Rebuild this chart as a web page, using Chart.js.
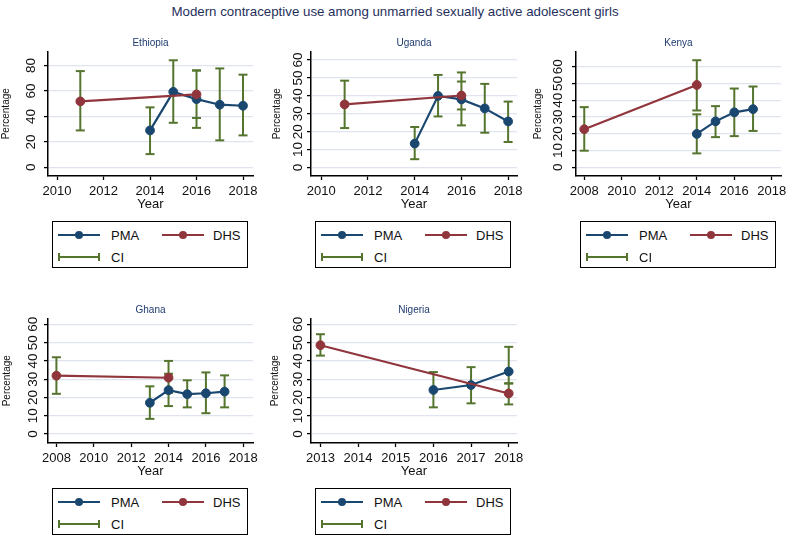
<!DOCTYPE html>
<html><head><meta charset="utf-8">
<script src="https://cdn.jsdelivr.net/npm/chart.js@4/dist/chart.umd.min.js"></script>
<style>
body{margin:0;width:790px;height:536px;background:#fff;position:relative;overflow:hidden;font-family:"Liberation Sans",Arial,Helvetica,sans-serif;}
canvas{position:absolute;}
.t{position:absolute;white-space:nowrap;transform:translate(-50%,-50%);}
.main{left:395px;top:11px;font-size:13.3px;color:#1f2f5c;}
.pt{font-size:10px;color:#1f3b6f;}
.lg{position:absolute;width:196px;height:47px;border:1.5px solid #000;box-sizing:border-box;}
.lg .ln{position:absolute;height:2px;width:42px;}
.lg .dot{position:absolute;width:8px;height:8px;border-radius:50%;}
.lg .cap{position:absolute;width:2px;height:8px;}
.lg .tx{position:absolute;font-size:13px;color:#111;transform:translateY(-50%);}
</style></head>
<body>
<div class="t main">Modern contraceptive use among unmarried sexually active adolescent girls</div>
<script>
// ---------- data ----------
const countries = ['Ethiopia', 'Uganda', 'Kenya', 'Ghana', 'Nigeria'];

const ethPmaYears = [2014, 2015, 2016, 2017, 2018];
const ethPma      = [29.0, 59.3, 53.6, 49.2, 48.4];
const ethPmaLo    = [10.4, 35.0, 31.0, 21.2, 25.1];
const ethPmaHi    = [47.1, 84.1, 76.1, 77.7, 72.8];
const ethDhsYears = [2011, 2016];
const ethDhs      = [51.8, 57.3];
const ethDhsLo    = [29.0, 38.8];
const ethDhsHi    = [75.6, 76.1];

const ugaPmaYears = [2014, 2015, 2016, 2017, 2018];
const ugaPma      = [13.3, 40.0, 38.0, 33.0, 25.7];
const ugaPmaLo    = [4.6, 28.5, 23.5, 19.4, 14.2];
const ugaPmaHi    = [22.6, 51.7, 53.1, 46.7, 36.8];
const ugaDhsYears = [2011, 2016];
const ugaDhs      = [35.2, 40.2];
const ugaDhsLo    = [22.0, 32.4];
const ugaDhsHi    = [48.5, 48.0];

const kenPmaYears = [2014, 2015, 2016, 2017];
const kenPma      = [19.9, 27.4, 32.8, 34.7];
const kenPmaLo    = [8.3, 18.0, 18.6, 21.7];
const kenPmaHi    = [31.6, 36.5, 47.0, 48.2];
const kenDhsYears = [2008, 2014];
const kenDhs      = [22.7, 49.1];
const kenDhsLo    = [9.9, 33.9];
const kenDhsHi    = [35.9, 63.9];

const ghaPmaYears = [2013, 2014, 2015, 2016, 2017];
const ghaPma      = [17.1, 24.0, 21.8, 22.3, 23.2];
const ghaPmaLo    = [8.3, 15.3, 14.6, 11.4, 14.6];
const ghaPmaHi    = [26.1, 33.0, 29.4, 33.7, 32.1];
const ghaDhsYears = [2008, 2014];
const ghaDhs      = [31.9, 30.8];
const ghaDhsLo    = [22.0, 22.5];
const ghaDhsHi    = [42.0, 40.0];

const ngaPmaYears = [2016, 2017, 2018];
const ngaPma      = [24.1, 26.8, 34.2];
const ngaPmaLo    = [14.6, 16.8, 27.6];
const ngaPmaHi    = [33.9, 36.6, 47.7];
const ngaDhsYears = [2013, 2018];
const ngaDhs      = [48.6, 22.2];
const ngaDhsLo    = [42.9, 16.2];
const ngaDhsHi    = [54.6, 27.8];

const xTicksA = [2010, 2012, 2014, 2016, 2018];
const xTicksB = [2008, 2010, 2012, 2014, 2016, 2018];
const xTicksC = [2013, 2014, 2015, 2016, 2017, 2018];
const yTicks80 = [0, 20, 40, 60, 80];
const yTicks60 = [0, 10, 20, 30, 40, 50, 60];

const seriesNames = ['PMA', 'DHS', 'CI'];

// ---------- style ----------
const NAVY = '#1a476f', MAROON = '#90353b', GREEN = '#55752f', GRID = '#dfe4ef';
const FONT = '"Liberation Sans", Arial, sans-serif';

function pts(years, vals) { return years.map((x, i) => ({x: x, y: vals[i]})); }
function ciPts(groups) {
  const out = [];
  groups.forEach(g => g.years.forEach((x, i) => { out.push({x: x, y: g.lo[i]}, {x: x, y: g.hi[i]}, {x: x, y: null}); }));
  return out;
}

const panels = [
  {name: countries[0], L: 0,   T: 45,  W: 267, yW: 48, padR: 14, yPad: 5.0, xMin: 2009.61, xMax: 2018.43, yMin: -6.8, yMax: 91, xT: xTicksA, yT: yTicks80,
   pmaY: ethPmaYears, pma: ethPma, pmaLo: ethPmaLo, pmaHi: ethPmaHi, dhsY: ethDhsYears, dhs: ethDhs, dhsLo: ethDhsLo, dhsHi: ethDhsHi},
  {name: countries[1], L: 271, T: 45,  W: 260, yW: 40, padR: 14, yPad: 1.0, xMin: 2009.56, xMax: 2018.38, yMin: -4.8, yMax: 64.8, xT: xTicksA, yT: yTicks60,
   pmaY: ugaPmaYears, pma: ugaPma, pmaLo: ugaPmaLo, pmaHi: ugaPmaHi, dhsY: ugaDhsYears, dhs: ugaDhs, dhsLo: ugaDhsLo, dhsHi: ugaDhsHi},
  {name: countries[2], L: 532, T: 45,  W: 258, yW: 44, padR: 9,  yPad: 5.9, xMin: 2007.56, xMax: 2018.49, yMin: -5.2, yMax: 69.1, xT: xTicksB, yT: yTicks60,
   pmaY: kenPmaYears, pma: kenPma, pmaLo: kenPmaLo, pmaHi: kenPmaHi, dhsY: kenDhsYears, dhs: kenDhs, dhsLo: kenDhsLo, dhsHi: kenDhsHi},
  {name: countries[3], L: 1,   T: 312, W: 266, yW: 47, padR: 14, yPad: 3.5, xMin: 2007.55, xMax: 2018.52, yMin: -4.9, yMax: 63.2, xT: xTicksB, yT: yTicks60,
   pmaY: ghaPmaYears, pma: ghaPma, pmaLo: ghaPmaLo, pmaHi: ghaPmaHi, dhsY: ghaDhsYears, dhs: ghaDhs, dhsLo: ghaDhsLo, dhsHi: ghaDhsHi},
  {name: countries[4], L: 269, T: 312, W: 262, yW: 42, padR: 14, yPad: 1.0, xMin: 2012.75, xMax: 2018.22, yMin: -4.9, yMax: 63.2, xT: xTicksC, yT: yTicks60,
   pmaY: ngaPmaYears, pma: ngaPma, pmaLo: ngaPmaLo, pmaHi: ngaPmaHi, dhsY: ngaDhsYears, dhs: ngaDhs, dhsLo: ngaDhsLo, dhsHi: ngaDhsHi}
];

const H = 167, PADT = 5, XH = 36;

function addDiv(cls, style, html) {
  const d = document.createElement('div');
  d.className = cls; d.setAttribute('style', style); if (html !== undefined) d.textContent = html;
  document.body.appendChild(d); return d;
}

panels.forEach(p => {
  const cv = document.createElement('canvas');
  cv.width = p.W; cv.height = H;
  cv.style.left = p.L + 'px'; cv.style.top = p.T + 'px';
  cv.style.width = p.W + 'px'; cv.style.height = H + 'px';
  document.body.appendChild(cv);

  const plotL = p.L + p.yW, plotR = p.L + p.W - p.padR, plotT = p.T + PADT;
  const cx = (plotL + plotR) / 2;
  addDiv('t pt', 'left:' + cx + 'px;top:' + (plotT - 8.5) + 'px;', p.name);

  // legend
  const lg = addDiv('lg', 'left:' + (plotL + 4) + 'px;top:' + (p.T + H + 8.7) + 'px;');
  const r1 = 13.3, r2 = 35.5;
  const mk = (cls, st, txt) => { const d = document.createElement('div'); d.className = cls; d.setAttribute('style', st); if (txt) d.textContent = txt; lg.appendChild(d); };
  mk('ln', 'left:5px;top:' + (r1 - 1) + 'px;background:' + NAVY);
  mk('dot', 'left:22px;top:' + (r1 - 4) + 'px;background:' + NAVY);
  mk('tx', 'left:58px;top:' + r1 + 'px;', seriesNames[0]);
  mk('ln', 'left:109px;top:' + (r1 - 1) + 'px;background:' + MAROON);
  mk('dot', 'left:126px;top:' + (r1 - 4) + 'px;background:' + MAROON);
  mk('tx', 'left:160px;top:' + r1 + 'px;', seriesNames[1]);
  mk('ln', 'left:5px;top:' + (r2 - 1) + 'px;background:' + GREEN);
  mk('cap', 'left:5px;top:' + (r2 - 4) + 'px;background:' + GREEN);
  mk('cap', 'left:45px;top:' + (r2 - 4) + 'px;background:' + GREEN);
  mk('tx', 'left:58px;top:' + r2 + 'px;', seriesNames[2]);

  new Chart(cv.getContext('2d'), {
    type: 'line',
    data: {
      datasets: [
        {label: 'DHS', data: pts(p.dhsY, p.dhs), borderColor: MAROON, backgroundColor: MAROON,
         pointBackgroundColor: MAROON, pointBorderColor: MAROON, pointRadius: 4.4, pointBorderWidth: 1,
         borderWidth: 2.2, order: 0, clip: false},
        {label: 'PMA', data: pts(p.pmaY, p.pma), borderColor: NAVY, backgroundColor: NAVY,
         pointBackgroundColor: NAVY, pointBorderColor: NAVY, pointRadius: 4.4, pointBorderWidth: 1,
         borderWidth: 2.2, order: 1, clip: false},
        {label: 'CI', data: ciPts([{years: p.pmaY, lo: p.pmaLo, hi: p.pmaHi}, {years: p.dhsY, lo: p.dhsLo, hi: p.dhsHi}]),
         borderColor: GREEN, backgroundColor: GREEN, pointStyle: 'line', pointRadius: 4.5,
         pointBorderColor: GREEN, pointBorderWidth: 2, borderWidth: 2, spanGaps: false, order: 2, clip: false}
      ]
    },
    options: {
      responsive: false, animation: false, devicePixelRatio: 1,
      layout: {padding: {left: 0, top: PADT, right: p.padR, bottom: 0}},
      plugins: {legend: {display: false}, tooltip: {enabled: false}},
      scales: {
        x: {
          type: 'linear', min: p.xMin, max: p.xMax,
          afterBuildTicks: s => { s.ticks = p.xT.map(v => ({value: v})); },
          afterFit: s => { s.height = XH; s.paddingLeft = 0; s.paddingRight = 0; },
          ticks: {font: {size: 13, family: FONT}, color: '#111', padding: 4,
                  maxRotation: 0, minRotation: 0, autoSkip: false, callback: v => String(v)},
          grid: {drawOnChartArea: false, tickLength: 4, tickColor: '#000', tickWidth: 1.3},
          border: {color: '#000', width: 1.5},
          title: {display: true, text: 'Year', font: {size: 13, family: FONT}, color: '#111', padding: 0}
        },
        y: {
          type: 'linear', min: p.yMin, max: p.yMax,
          afterBuildTicks: s => { s.ticks = p.yT.map(v => ({value: v})); },
          afterFit: s => { s.width = p.yW; s.paddingTop = 0; s.paddingBottom = 0; },
          ticks: {font: {size: 13.5, family: FONT}, color: '#111', padding: p.yPad,
                  minRotation: 90, maxRotation: 90, crossAlign: 'center', autoSkip: false, callback: v => String(v)},
          grid: {color: GRID, lineWidth: 1.2, tickLength: 4, tickColor: '#000', tickWidth: 1.3},
          border: {color: '#000', width: 1.5},
          title: {display: true, text: 'Percentage', font: {size: 10, family: FONT}, color: '#111', padding: 0}
        }
      }
    }
  });
});
</script>
</body></html>
